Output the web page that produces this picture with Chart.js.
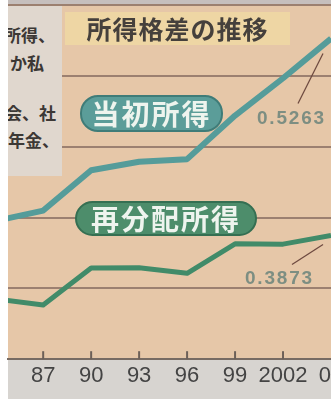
<!DOCTYPE html>
<html>
<head>
<meta charset="utf-8">
<script src="https://cdn.jsdelivr.net/npm/chart.js@4"></script>
<style>
  body { margin: 0; background: #fff; }
  #wrap { position: relative; width: 331px; height: 399px; overflow: hidden; }
  #c { position: absolute; left: 0; top: 0; }
  .jp { font-family: "Noto Sans CJK JP", sans-serif; font-weight: bold; position: absolute; white-space: nowrap; }
  #side { position: absolute; left: 8px; top: 6px; width: 54px; height: 170px; background: #e0d7ce; overflow: hidden; }
  #side .jp { font-size: 17px; color: #3c3835; line-height: 20px; }
  #title { position: absolute; left: 65px; top: 12px; width: 225px; height: 33px; background: #eed6a4; }
  #title .jp { left: 0; width: 225px; text-align: center; top: 0; font-size: 25px; line-height: 33px; color: #45403c; letter-spacing: 1px; }
  .pill { border-radius: 18px; color: #eef4ee; text-align: center; font-size: 28px; letter-spacing: 2px; }
  .val { position: absolute; font-family: "Liberation Sans", Arial, sans-serif; font-weight: bold; font-size: 19px; letter-spacing: 1.8px; color: #7d8e82; line-height: 20px; }
</style>
</head>
<body>
<div id="wrap">
  <canvas id="c" width="331" height="399"></canvas>
  <div id="side">
    <div class="jp" style="left:-4px;top:19px">所得、</div>
    <div class="jp" style="left:2px;top:47px">か私</div>
    <div class="jp" style="left:-3px;top:97px">会、社</div>
    <div class="jp" style="left:0px;top:124px">年金、</div>
  </div>
  <div id="title"><div class="jp">所得格差の推移</div></div>
  <div class="jp pill" style="left:80px;top:95px;width:139px;height:33px;line-height:33px;background:#5b9d99;border:2px solid #3f7c78">当初所得</div>
  <div class="jp pill" style="left:75px;top:201px;width:178px;height:31px;line-height:31px;background:#4d8d6b;border:2px solid #356f52">再分配所得</div>
  <div class="val" id="v1" style="left:257px;top:108px"></div>
  <div class="val" id="v2" style="left:245px;top:268px"></div>
</div>
<script>
const years = [1984, 1987, 1990, 1993, 1996, 1999, 2002, 2005];
const initialIncome = [0.3975, 0.4049, 0.4334, 0.4394, 0.4412, 0.4720, 0.4983, 0.5263];
const redistributedIncome = [0.3426, 0.3382, 0.3643, 0.3645, 0.3606, 0.3814, 0.3812, 0.3873];
const tickYears = [1987, 1990, 1993, 1996, 1999, 2002, 2005];
const tickLabels = ['87', '90', '93', '96', '99', '2002', '05'];

document.getElementById('v1').textContent = initialIncome[initialIncome.length - 1].toFixed(4);
document.getElementById('v2').textContent = redistributedIncome[redistributedIncome.length - 1].toFixed(4);

const toPoints = (vals) => years.map((y, i) => ({ x: y, y: vals[i] }));

// backgrounds: page gray, chart area beige
const backdrop = {
  id: 'backdrop',
  beforeDraw(chart) {
    const { ctx, chartArea: a } = chart;
    ctx.save();
    ctx.fillStyle = '#d7d4d0';
    ctx.fillRect(0, 0, chart.width, chart.height);
    ctx.fillStyle = '#c6bfbd';
    ctx.fillRect(0, 0, chart.width, a.top);
    ctx.fillStyle = '#e6c7a8';
    ctx.fillRect(a.left, a.top, a.right - a.left, a.bottom - a.top);
    ctx.fillStyle = '#ffffff';
    ctx.fillRect(0, 0, a.left, chart.height);
    ctx.restore();
  }
};

// small tick marks pointing up into the plot, plus leader lines to the value labels
const extras = {
  id: 'extras',
  afterDatasetsDraw(chart) {
    const { ctx, chartArea: a, scales: { x } } = chart;
    ctx.save();
    ctx.strokeStyle = '#6d6058';
    ctx.lineWidth = 2;
    tickYears.forEach(t => {
      const px = x.getPixelForValue(t);
      if (px > a.right - 2) return;
      ctx.beginPath();
      ctx.moveTo(px, a.bottom - 8);
      ctx.lineTo(px, a.bottom);
      ctx.stroke();
    });
    ctx.strokeStyle = '#6e4a40';
    ctx.lineWidth = 1.3;
    const p1 = chart.getDatasetMeta(0).data[years.length - 1];
    ctx.beginPath();
    ctx.moveTo(p1.x - 8, p1.y + 15);
    ctx.lineTo(p1.x - 33, p1.y + 65);
    ctx.stroke();
    const p2 = chart.getDatasetMeta(1).data[years.length - 1];
    ctx.beginPath();
    ctx.moveTo(p2.x - 8, p2.y + 9);
    ctx.lineTo(p2.x - 39, p2.y + 29);
    ctx.stroke();
    ctx.restore();
  }
};

new Chart(document.getElementById('c'), {
  type: 'line',
  data: {
    datasets: [{
      label: '当初所得',
      data: toPoints(initialIncome),
      borderColor: '#559c9a',
      borderWidth: 6,
      pointRadius: 0,
      tension: 0,
      borderJoinStyle: 'round'
    }, {
      label: '再分配所得',
      data: toPoints(redistributedIncome),
      borderColor: '#418b69',
      borderWidth: 5,
      pointRadius: 0,
      tension: 0,
      borderJoinStyle: 'round'
    }]
  },
  options: {
    responsive: false,
    animation: false,
    layout: { padding: { left: 8, top: 5, right: 0, bottom: 5.8 } },
    plugins: { legend: { display: false }, tooltip: { enabled: false } },
    scales: {
      x: {
        type: 'linear',
        min: 1984.8,
        max: 2005,
        afterBuildTicks: (s) => { s.ticks = tickYears.map(v => ({ value: v })); },
        afterFit: (s) => { s.paddingLeft = 0; s.paddingRight = 0; },
        grid: { display: false, drawTicks: false },
        border: { display: true, color: '#776b63', width: 2 },
        ticks: {
          padding: 3.8,
          maxRotation: 0,
          autoSkip: false,
          color: '#444444',
          font: { family: '"Liberation Sans", Arial, sans-serif', size: 22 },
          callback: (v) => tickLabels[tickYears.indexOf(v)]
        }
      },
      y: {
        min: 0.30,
        max: 0.55,
        ticks: { display: false, stepSize: 0.05 },
        grid: { color: '#9c8070', lineWidth: 2, drawTicks: false },
        border: { display: false }
      }
    }
  },
  plugins: [backdrop, extras]
});
</script>
</body>
</html>
